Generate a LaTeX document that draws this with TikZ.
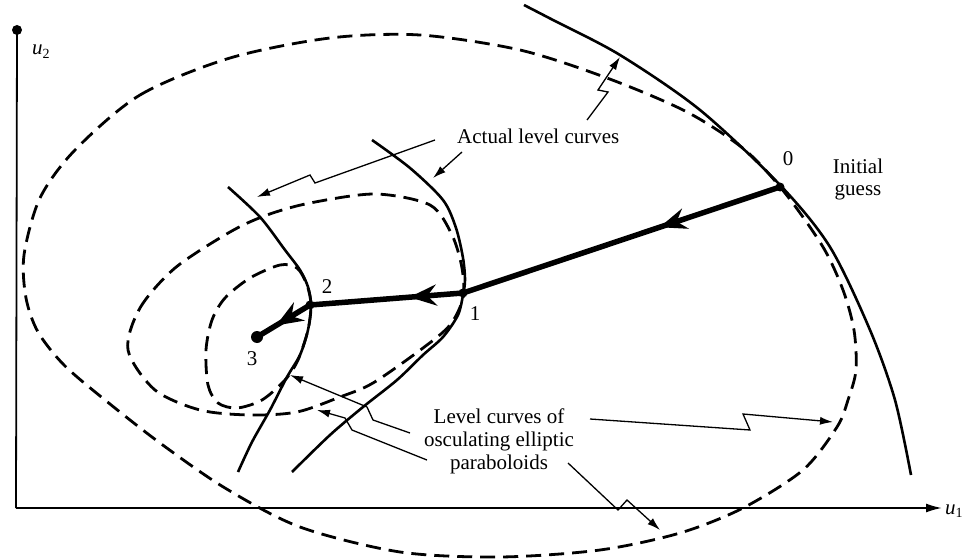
\documentclass[tikz,border=0pt]{standalone}
\usepackage{fontspec}
\setmainfont{Liberation Serif}
\usetikzlibrary{arrows.meta,decorations.markings}
\begin{document}
\begin{tikzpicture}[x=1pt,y=-1pt,
  lbl/.style={font=\fontsize{21}{23}\selectfont, inner sep=0pt, anchor=base},
  solidcurve/.style={line width=2.6pt},
  dashcurve/.style={line width=2.8pt, dash pattern=on 15pt off 8pt},
  thickpath/.style={line width=5.5pt, line cap=round},
  note/.style={line width=1.3pt, -{Latex[length=13pt,width=8pt]}},
  ptdot/.style={circle, fill=black, inner sep=0pt, minimum size=10pt}
]
\useasboundingbox (0,0) rectangle (964,559);
% axes
\node[ptdot] (top) at (17,30) {};
\coordinate (origin) at (16,508);
\coordinate (xend) at (942,508);
\draw[line width=1.8pt] (top.center) -- (origin);
\draw[line width=1.8pt, -{Latex[length=16pt,width=9pt]}] (origin) -- (xend);
\node[lbl, anchor=base west] (u2) at (32,55) {\textit{u}\raisebox{-0.35ex}{\fontsize{14}{14}\selectfont 2}};
\node[lbl, anchor=base west] (u1) at (945,514) {\textit{u}\raisebox{-0.35ex}{\fontsize{14}{14}\selectfont 1}};

% outer actual level curve
\draw[solidcurve] plot[smooth] coordinates {(524,5) (553,20) (620,55) (700,110) (780,185) (830,247) (870,330) (895,400) (911,475)};
% big dashed ellipse
\draw[dashcurve] plot[smooth cycle] coordinates {(75,150) (140,95) (230,58) (330,38) (420,35) (520,50) (607,78) (687,112) (745,150) (785,193) (823,247) (843,290) (854,330) (856,370) (848,400) (837,427) (803,470) (743,508) (680,533) (600,550) (500,557) (400,552) (300,527) (225,488) (160,443) (105,400) (64,365) (38,332) (26,298) (24,255) (40,198)};
% curve through 1
\draw[solidcurve] plot[smooth] coordinates {(372,140) (410,168) (443,200) (456,228) (463,258) (465,280) (463,295) (458,315) (443,337) (423,355) (397,380) (363,407) (330,435) (292,472)};
% curve through 2
\draw[solidcurve] plot[smooth] coordinates {(228,187) (260,217) (285,250) (300,270) (308,287) (311,305) (308,330) (300,355) (287,377) (270,410) (252,442) (238,472)};
% medium dashed ellipse
\draw[dashcurve] plot[smooth cycle] coordinates {(128,350) (140,308) (175,268) (230,232) (267,215) (310,203) (375,194) (430,205) (452,235) (462,268) (463,298) (450,325) (423,348) (373,383) (340,397) (297,412) (250,415) (200,410) (155,390)};
% small dashed ellipse
\draw[dashcurve] plot[smooth cycle] coordinates {(280,265) (297,268) (307,285) (311,305) (308,330) (298,360) (285,380) (262,400) (237,408) (218,403) (208,385) (206,350) (212,320) (225,298) (250,278)};

% iteration path
\coordinate (p0) at (780,187);
\coordinate (p1) at (463,293);
\coordinate (p2) at (310,305);
\coordinate (p3) at (257,337);
\tikzset{mid/.style={postaction={decorate}, decoration={markings, mark=at position #1 with {\arrow{Stealth[length=27pt,width=21pt,inset=9pt]}}}}}
\draw[thickpath, mid=0.38] (p0) -- (p1);
\draw[thickpath, mid=0.35] (p1) -- (p2);
\draw[thickpath, mid=0.64] (p2) -- (p3);
\node[ptdot, minimum size=9pt] (d0) at (p0) {};
\node[ptdot, minimum size=9pt] (d1) at (p1) {};
\node[ptdot, minimum size=9pt] (d2) at (p2) {};
\node[ptdot, minimum size=12pt] (d3) at (p3) {};
\node[lbl] (l0) at (788,165) {0};
\node[lbl] (l1) at (475,320) {1};
\node[lbl] (l2) at (327,293) {2};
\node[lbl] (l3) at (252,365) {3};

% labels
\node[lbl, anchor=base west] (actual) at (457,143) {Actual level curves};
\node[lbl] (init1) at (858,173) {Initial};
\node[lbl] (init2) at (858,195) {guess};
\node[lbl] (lev1) at (499,423) {Level curves of};
\node[lbl] (lev2) at (499,446) {osculating elliptic};
\node[lbl] (lev3) at (499,469) {paraboloids};

% annotation arrows
\coordinate (gA) at (587,120); \coordinate (gT) at (620,57);
\draw[note] (gA) -- (608,92) -- (598,90) -- (gT);
\coordinate (fA) at (462,152); \coordinate (fT) at (433,178);
\draw[note] (fA) -- (fT);
\coordinate (eA) at (435,140); \coordinate (eT) at (257,197);
\draw[note] (eA) -- (315,183) -- (310,175) -- (eT);
\coordinate (aA) at (410,433); \coordinate (aT) at (290,375);
\draw[note] (aA) -- (373,420) -- (367,407) -- (aT);
\coordinate (bA) at (427,460); \coordinate (bT) at (317,410);
\draw[note] (bA) -- (352,430) -- (345,418) -- (bT);
\coordinate (cA) at (590,419); \coordinate (cT) at (833,422);
\draw[note] (cA) -- (750,430) -- (743,414) -- (cT);
\coordinate (dA) at (568,463); \coordinate (dT) at (660,530);
\draw[note] (dA) -- (618,510) -- (627,500) -- (dT);
\end{tikzpicture}
\end{document}
